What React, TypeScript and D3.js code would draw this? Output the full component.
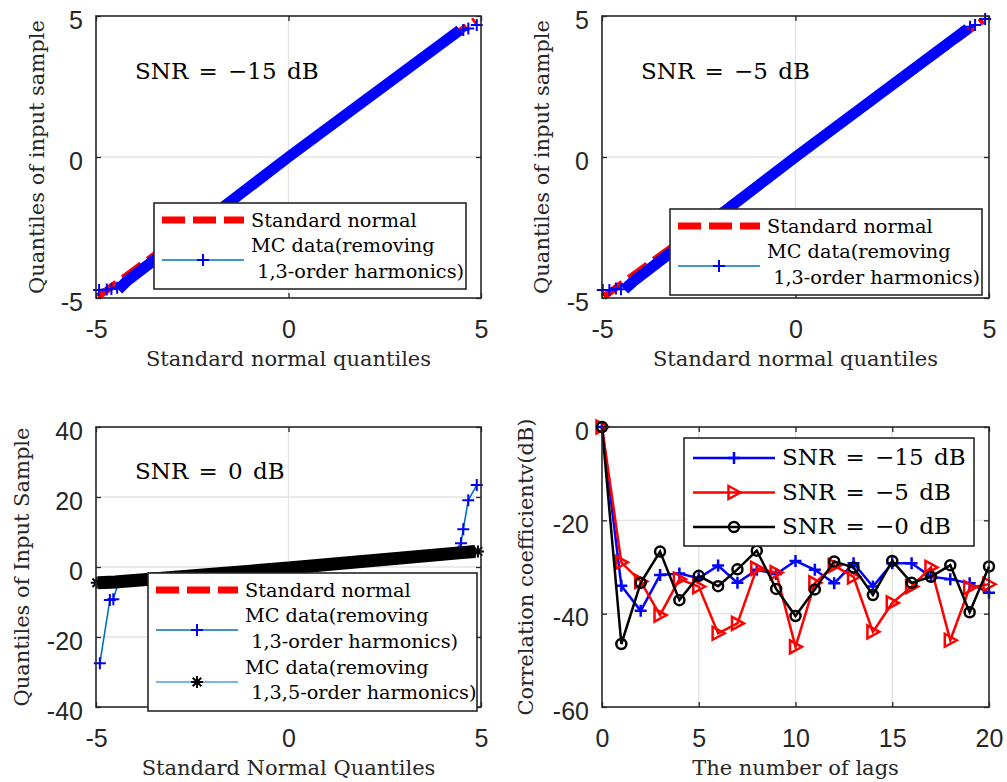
import {
  axisBottom,
  axisLeft,
  axisRight,
  axisTop,
  line as d3Line,
  scaleLinear,
  select,
} from "d3";
import { useEffect, useRef } from "react";

// ---- values ----
const qqTicks = [-5, 0, 5];
const qqTicksY0 = [-40, -20, 0, 20, 40];
const lagTicks = [0, 5, 10, 15, 20];
const corrTicks = [-60, -40, -20, 0];

// standard normal reference line (end points)
const refNormal: [number, number][] = [
  [-4.95, -4.95],
  [4.85, 4.85],
];

// SNR = -15 dB: centre of the dense band of markers, then the sparse tail markers
const band15: [number, number][] = [
  [-4.42, -4.7],
  [-4.2, -4.4],
  [0, 0],
  [4.45, 4.5],
];
const tail15: [number, number][] = [
  [-4.92, -4.72],
  [-4.72, -4.7],
  [-4.6, -4.68],
  [-4.45, -4.64],
  [4.54, 4.5],
  [4.67, 4.56],
  [4.89, 4.68],
];

// SNR = -5 dB
const band5: [number, number][] = [
  [-4.42, -4.7],
  [-4.2, -4.42],
  [0, 0],
  [4.45, 4.55],
];
const tail5: [number, number][] = [
  [-4.98, -4.72],
  [-4.81, -4.72],
  [-4.64, -4.66],
  [-4.51, -4.69],
  [4.51, 4.62],
  [4.64, 4.68],
  [4.9, 4.89],
];

// SNR = 0 dB
const mc13: [number, number][] = [
  [-4.9, -27.5],
  [-4.64, -9.4],
  [-4.55, -9.2],
  [-4.45, -5.6],
  [-4.3, -4.3],
  [4.3, 4.3],
  [4.48, 6.8],
  [4.54, 10.8],
  [4.67, 19.1],
  [4.89, 23.4],
];
const mc13Sparse: [number, number][] = [
  [-4.9, -27.5],
  [-4.64, -9.4],
  [-4.55, -9.2],
  [4.48, 6.8],
  [4.54, 10.8],
  [4.67, 19.1],
  [4.89, 23.4],
];
const band135: [number, number][] = [
  [-4.95, -4.5],
  [-4.5, -4.3],
  [0, -0.3],
  [4.5, 4.1],
  [4.85, 4.4],
];
const tail135: [number, number][] = [
  [-4.98, -4.5],
  [-4.8, -4.5],
  [-4.65, -4.4],
  [4.75, 4.35],
  [4.92, 4.45],
];

// correlation coefficient vs lag
const lags = [0, 1, 2, 3, 4, 5, 6, 7, 8, 9, 10, 11, 12, 13, 14, 15, 16, 17, 18, 19, 20];
const corrSnr15 = [0, -34.0, -39.4, -31.7, -31.4, -32.4, -29.7, -33.4, -30.6, -31.5, -28.7, -30.6, -33.5, -29.2, -34.2, -29.2, -29.2, -32.1, -32.6, -33.5, -35.5];
const corrSnr5 = [0, -29.0, -33.1, -40.3, -32.6, -34.2, -44.2, -42.1, -30.3, -31.2, -47.1, -33.4, -29.7, -32.1, -43.9, -37.7, -34.2, -30.1, -45.7, -34.4, -33.7];
const corrSnr0 = [0, -46.5, -33.4, -26.7, -37.1, -31.9, -34.1, -30.5, -26.5, -34.7, -40.5, -34.8, -28.8, -30.1, -36.0, -28.7, -33.4, -32.1, -29.6, -39.7, -29.9];

// ---- look ----
const BLUE = "#0000ff";
const LINE_BLUE = "#0072bd";
const RED = "#ff0000";
const AXIS = "#262626";
const GRID = "#e3e3e3";
const SERIF = "'DejaVu Serif', serif";
const SANS = "'Liberation Sans', Arial, sans-serif";

const PLUS = "M-6,0H6M0,-6V6";
const STAR = "M-6,0H6M0,-6V6M-4.3,-4.3L4.3,4.3M-4.3,4.3L4.3,-4.3";
const TRI = "M6.5,0L-5.5,-6.5L-5.5,6.5Z";

interface Box {
  left: number;
  right: number;
  top: number;
  bottom: number;
}

const BOXES: Record<string, Box> = {
  a: { left: 96, right: 481, top: 16, bottom: 298 },
  b: { left: 602, right: 989, top: 16, bottom: 298 },
  c: { left: 96, right: 481, top: 427, bottom: 707 },
  d: { left: 602, right: 989, top: 427, bottom: 707 },
};

// eslint-disable-next-line @typescript-eslint/no-explicit-any
type Sel = any;

const makeScales = (box: Box, xDom: number[], yDom: number[]) => {
  const x = scaleLinear().domain(xDom).range([box.left, box.right]);
  const y = scaleLinear().domain(yDom).range([box.bottom, box.top]);
  return { x, y };
};

const drawGrid = (svg: Sel, box: Box, x: Sel, y: Sel, xTicks: number[], yTicks: number[]) => {
  const g = svg.append("g");
  g.selectAll("line.gx")
    .data(xTicks.slice(1, -1))
    .join("line")
    .attr("x1", (d: number) => x(d))
    .attr("x2", (d: number) => x(d))
    .attr("y1", box.top)
    .attr("y2", box.bottom)
    .attr("stroke", GRID)
    .attr("stroke-width", 1.3);
  g.selectAll("line.gy")
    .data(yTicks.slice(1, -1))
    .join("line")
    .attr("y1", (d: number) => y(d))
    .attr("y2", (d: number) => y(d))
    .attr("x1", box.left)
    .attr("x2", box.right)
    .attr("stroke", GRID)
    .attr("stroke-width", 1.3);
};

const drawAxes = (svg: Sel, box: Box, x: Sel, y: Sel, xTicks: number[], yTicks: number[]) => {
  const fmt = (d: number) => String(d);
  const none = () => "";
  const g = svg.append("g");
  g.append("g")
    .attr("transform", `translate(0,${box.bottom})`)
    .call(axisBottom(x).tickValues(xTicks).tickSizeInner(-5).tickSizeOuter(0).tickPadding(22).tickFormat(fmt));
  g.append("g")
    .attr("transform", `translate(0,${box.top})`)
    .call(axisTop(x).tickValues(xTicks).tickSizeInner(-5).tickSizeOuter(0).tickFormat(none));
  g.append("g")
    .attr("transform", `translate(${box.left},0)`)
    .call(axisLeft(y).tickValues(yTicks).tickSizeInner(-5).tickSizeOuter(0).tickPadding(13).tickFormat(fmt))
    .selectAll("text")
    .attr("dy", "0.48em");
  g.append("g")
    .attr("transform", `translate(${box.right},0)`)
    .call(axisRight(y).tickValues(yTicks).tickSizeInner(-5).tickSizeOuter(0).tickFormat(none));
  g.selectAll(".domain").remove();
  g.selectAll(".tick line").attr("stroke", AXIS).attr("stroke-width", 1.3);
  g.selectAll("text")
    .attr("font-family", SANS)
    .attr("font-size", 25)
    .attr("fill", AXIS);
  g.append("rect")
    .attr("x", box.left)
    .attr("y", box.top)
    .attr("width", box.right - box.left)
    .attr("height", box.bottom - box.top)
    .attr("fill", "none")
    .attr("stroke", AXIS)
    .attr("stroke-width", 1.6);
};

const drawLabels = (svg: Sel, box: Box, xLabel: string, yLabel: string, yBase: number) => {
  const cx = (box.left + box.right) / 2;
  const cy = (box.top + box.bottom) / 2;
  svg.append("text")
    .attr("x", cx)
    .attr("y", box.bottom + 68)
    .attr("text-anchor", "middle")
    .attr("font-family", SERIF)
    .attr("font-size", 21)
    .attr("fill", AXIS)
    .text(xLabel);
  svg.append("text")
    .attr("transform", `translate(${yBase},${cy}) rotate(-90)`)
    .attr("text-anchor", "middle")
    .attr("font-family", SERIF)
    .attr("font-size", 21)
    .attr("fill", AXIS)
    .text(yLabel);
};

// "SNR = ..." style text, LaTeX-ish wide spacing
const snrText = (sel: Sel, px: number, py: number, txt: string) =>
  sel.append("text")
    .attr("x", px)
    .attr("y", py)
    .attr("font-family", SERIF)
    .attr("font-size", 23)
    .attr("word-spacing", 3)
    .attr("fill", "#000")
    .style("white-space", "pre")
    .text(txt);

const markers = (svg: Sel, pts: [number, number][], x: Sel, y: Sel, shape: string, color: string, width: number) => {
  svg.append("g")
    .selectAll("path")
    .data(pts)
    .join("path")
    .attr("transform", (d: [number, number]) => `translate(${x(d[0])},${y(d[1])})`)
    .attr("d", shape)
    .attr("fill", "none")
    .attr("stroke", color)
    .attr("stroke-width", width);
};

const pathOf = (svg: Sel, pts: [number, number][], x: Sel, y: Sel, color: string, width: number, dash?: string) => {
  const gen = d3Line<[number, number]>()
    .x((d) => x(d[0]))
    .y((d) => y(d[1]));
  const p = svg.append("path")
    .attr("d", gen(pts))
    .attr("fill", "none")
    .attr("stroke", color)
    .attr("stroke-width", width);
  if (dash) p.attr("stroke-dasharray", dash);
};

// legend for the q-q panels
const qqLegend = (svg: Sel, lx: number, ly: number, withStar: boolean) => {
  const h = withStar ? 138 : 86;
  const g = svg.append("g").attr("transform", `translate(${lx},${ly})`);
  g.append("rect")
    .attr("width", 312 + (withStar ? 17 : 0))
    .attr("height", h)
    .attr("fill", "#fff")
    .attr("stroke", AXIS)
    .attr("stroke-width", 1.6);
  const txt = (ty: number, s: string) =>
    g.append("text")
      .attr("x", 97)
      .attr("y", ty)
      .attr("font-family", SERIF)
      .attr("font-size", 19.3)
      .attr("fill", "#000")
      .style("white-space", "pre")
      .text(s);
  g.append("line")
    .attr("x1", 8).attr("x2", 90).attr("y1", 17).attr("y2", 17)
    .attr("stroke", RED).attr("stroke-width", 7).attr("stroke-dasharray", "23 8");
  txt(24, "Standard normal");
  g.append("line")
    .attr("x1", 8).attr("x2", 90).attr("y1", 57).attr("y2", 57)
    .attr("stroke", LINE_BLUE).attr("stroke-width", 1.6);
  g.append("path").attr("transform", "translate(49,57)").attr("d", PLUS)
    .attr("stroke", BLUE).attr("stroke-width", 2);
  txt(49, "MC data(removing");
  txt(75, " 1,3-order harmonics)");
  if (withStar) {
    g.append("line")
      .attr("x1", 8).attr("x2", 90).attr("y1", 109).attr("y2", 109)
      .attr("stroke", "#4d9de0").attr("stroke-width", 1.6);
    g.append("path").attr("transform", "translate(49,109)").attr("d", STAR)
      .attr("stroke", "#000").attr("stroke-width", 2);
    txt(101, "MC data(removing");
    txt(126, " 1,3,5-order harmonics)");
  }
};

const App = () => {
  const svgElem = useRef<SVGSVGElement>(null);

  useEffect(() => {
    if (!svgElem.current) {
      return;
    }
    const svg = select(svgElem.current);
    svg.selectAll("*").remove();

    // ---- top-left: SNR -15 dB ----
    {
      const box = BOXES.a;
      const { x, y } = makeScales(box, [-5, 5], [-5, 5]);
      drawGrid(svg, box, x, y, qqTicks, qqTicks);
      pathOf(svg, refNormal, x, y, RED, 7, "23 8");
      pathOf(svg, band15, x, y, BLUE, 11);
      markers(svg, tail15, x, y, PLUS, BLUE, 2);
      drawAxes(svg, box, x, y, qqTicks, qqTicks);
      drawLabels(svg, box, "Standard normal quantiles", "Quantiles of input sample", 44);
      snrText(svg, 135, 79, "SNR = −15 dB");
      qqLegend(svg, 154, 203, false);
    }

    // ---- top-right: SNR -5 dB ----
    {
      const box = BOXES.b;
      const { x, y } = makeScales(box, [-5, 5], [-5, 5]);
      drawGrid(svg, box, x, y, qqTicks, qqTicks);
      pathOf(svg, refNormal, x, y, RED, 7, "23 8");
      pathOf(svg, band5, x, y, BLUE, 11);
      markers(svg, tail5, x, y, PLUS, BLUE, 2);
      drawAxes(svg, box, x, y, qqTicks, qqTicks);
      drawLabels(svg, box, "Standard normal quantiles", "Quantiles of input sample", 549);
      snrText(svg, 641, 79, "SNR = −5 dB");
      qqLegend(svg, 670, 209, false);
    }

    // ---- bottom-left: SNR 0 dB ----
    {
      const box = BOXES.c;
      const { x, y } = makeScales(box, [-5, 5], [-40, 40]);
      drawGrid(svg, box, x, y, qqTicks, qqTicksY0);
      pathOf(svg, refNormal, x, y, RED, 7, "23 8");
      pathOf(svg, mc13, x, y, LINE_BLUE, 1.6);
      markers(svg, mc13Sparse, x, y, PLUS, BLUE, 2);
      pathOf(svg, band135, x, y, "#000", 13);
      markers(svg, tail135, x, y, STAR, "#000", 2);
      drawAxes(svg, box, x, y, qqTicks, qqTicksY0);
      drawLabels(svg, box, "Standard Normal Quantiles", "Quantiles of Input Sample", 29);
      snrText(svg, 135, 479, "SNR = 0 dB");
      qqLegend(svg, 148, 573, true);
    }

    // ---- bottom-right: correlation vs lags ----
    {
      const box = BOXES.d;
      const { x, y } = makeScales(box, [0, 20], [-60, 0]);
      drawGrid(svg, box, x, y, lagTicks, corrTicks);
      const series = [
        { vals: corrSnr15, color: BLUE, shape: PLUS, label: "SNR = −15 dB" },
        { vals: corrSnr5, color: RED, shape: TRI, label: "SNR = −5 dB" },
        { vals: corrSnr0, color: "#000", shape: "M5,0A5,5 0 1 1 -5,0A5,5 0 1 1 5,0Z", label: "SNR = −0 dB" },
      ];
      series.forEach((s) => {
        const pts = lags.map((l, i) => [l, s.vals[i]] as [number, number]);
        pathOf(svg, pts, x, y, s.color, 2.5);
        markers(svg, pts, x, y, s.shape, s.color, 2.5);
      });
      drawAxes(svg, box, x, y, lagTicks, corrTicks);
      drawLabels(svg, box, "The number of lags", "Correlation coefficientv(dB)", 533);

      const lg = svg.append("g").attr("transform", "translate(684,438)");
      lg.append("rect")
        .attr("width", 290)
        .attr("height", 108)
        .attr("fill", "#fff")
        .attr("stroke", AXIS)
        .attr("stroke-width", 1.6);
      series.forEach((s, i) => {
        const ry = 20 + i * 34.5;
        lg.append("line")
          .attr("x1", 9).attr("x2", 91).attr("y1", ry).attr("y2", ry)
          .attr("stroke", s.color).attr("stroke-width", 2.5);
        lg.append("path")
          .attr("transform", `translate(50,${ry})`)
          .attr("d", s.shape)
          .attr("fill", "none")
          .attr("stroke", s.color)
          .attr("stroke-width", 2.5);
        snrText(lg, 98, ry + 7, s.label);
      });
    }
  }, []);

  return (
    <svg
      ref={svgElem}
      width={1007}
      height={782}
      style={{ position: "absolute", left: 0, top: 0, background: "#fff" }}
    />
  );
};

export default App;
